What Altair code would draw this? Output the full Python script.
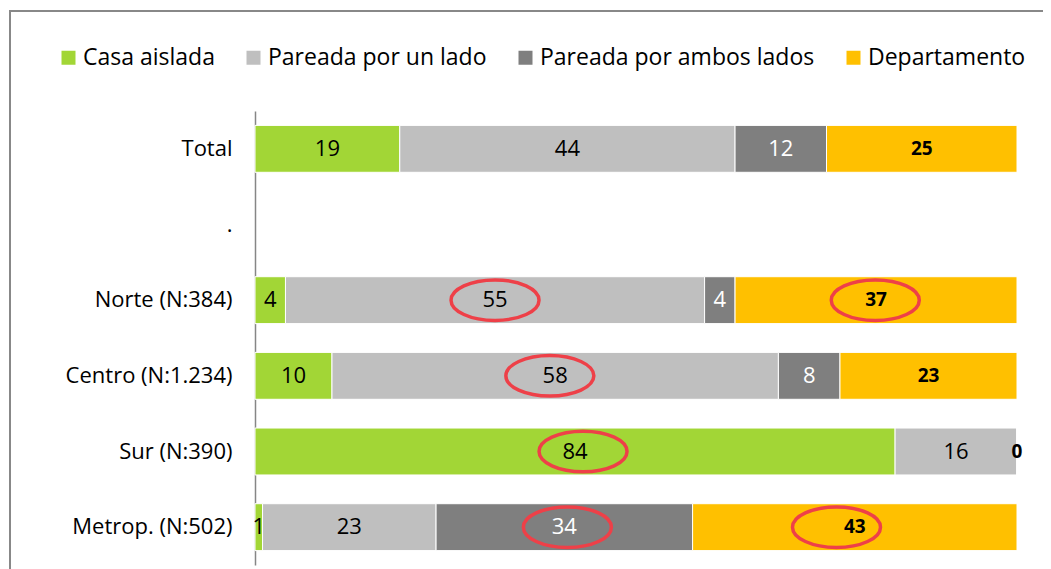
import altair as alt
import pandas as pd

categories = ["Total", ".", "Norte (N:384)", "Centro (N:1.234)", "Sur (N:390)", "Metrop. (N:502)"]
series = ["Casa aislada", "Pareada por un lado", "Pareada por ambos lados", "Departamento"]
colors = ["#A2D636", "#BFBFBF", "#7F7F7F", "#FFC000"]

total_vals = [19, 44, 12, 25]
norte_vals = [4, 55, 4, 37]
centro_vals = [10, 58, 8, 23]
sur_vals = [84, 16, 0, 0]
metrop_vals = [1, 23, 34, 43]

row_values = {
    "Total": total_vals,
    "Norte (N:384)": norte_vals,
    "Centro (N:1.234)": centro_vals,
    "Sur (N:390)": sur_vals,
    "Metrop. (N:502)": metrop_vals,
}

# labels that are not shown in the original
hidden_labels = [("Sur (N:390)", "Pareada por ambos lados")]

# circled labels (category, series, shift of the ellipse in % of the bar)
highlight_cat = ["Norte (N:384)", "Norte (N:384)", "Centro (N:1.234)", "Sur (N:390)", "Metrop. (N:502)", "Metrop. (N:502)"]
highlight_ser = ["Pareada por un lado", "Departamento", "Pareada por un lado", "Casa aislada", "Pareada por ambos lados", "Departamento"]
highlight_shift = [0.0, -0.1, -0.7, 1.05, 0.4, -2.4]

rows = []
for cat, vals in row_values.items():
    for i, (s, v) in enumerate(zip(series, vals)):
        hl = 0
        shift = 0.0
        for hc, hs, sh in zip(highlight_cat, highlight_ser, highlight_shift):
            if hc == cat and hs == s:
                hl = 1
                shift = sh
        rows.append({
            "cat": cat, "series": s, "value": v, "order": i,
            "show": 0 if (cat, s) in hidden_labels else 1,
            "hl": hl, "shift": shift,
        })
df = pd.DataFrame(rows)

FONT = "Open Sans"
FS = 22

yenc = alt.Y("cat:N", sort=categories,
             scale=alt.Scale(domain=categories, paddingInner=0.38, paddingOuter=0.19),
             axis=alt.Axis(title=None, ticks=False, labelPadding=23, labelFontSize=FS,
                           labelFont=FONT, labelColor="#000000", domainColor="#868686",
                           domainWidth=1.5, grid=False, labelLimit=0))

base = alt.Chart(df).transform_stack(
    stack="value", groupby=["cat"], as_=["x0", "x1"], offset="normalize",
    sort=[alt.SortField("order", order="ascending")]
).transform_calculate(mid="(datum.x0 + datum.x1) / 2")

xscale = alt.Scale(domain=[0, 1], nice=False, zero=False)

bars = base.mark_bar(stroke="white", strokeWidth=1).encode(
    x=alt.X("x0:Q", scale=xscale, axis=None),
    x2="x1:Q",
    y=yenc,
    color=alt.Color("series:N", sort=series,
                    scale=alt.Scale(domain=series, range=colors),
                    legend=alt.Legend(title=None, orient="none", direction="horizontal",
                                      legendX=-198, legendY=-65, symbolType="square",
                                      symbolSize=196, symbolStrokeWidth=0,
                                      labelFontSize=23, labelFont=FONT, labelColor="#000000",
                                      labelOffset=3, columnPadding=27, padding=0,
                                      labelLimit=0)),
)

labels = base.transform_filter(
    "datum.show == 1 && datum.series != 'Departamento'"
).mark_text(font=FONT, fontSize=FS, baseline="middle", align="center").encode(
    x=alt.X("mid:Q", scale=xscale),
    y=alt.Y("cat:N", sort=categories),
    text=alt.Text("value:Q"),
    color=alt.condition("datum.series == 'Pareada por ambos lados'", alt.value("#FFFFFF"), alt.value("#000000")),
)

labels_bold = base.transform_filter(
    "datum.show == 1 && datum.series == 'Departamento'"
).mark_text(font=FONT, fontSize=19, fontWeight="bold", baseline="middle", align="center", color="#000000").encode(
    x=alt.X("mid:Q", scale=xscale),
    y=alt.Y("cat:N", sort=categories),
    text=alt.Text("value:Q"),
)

ellipses = base.transform_filter("datum.hl == 1").transform_calculate(
    ex="datum.mid + datum.shift / 100"
).mark_point(
    shape="M-1,0A1,0.46,0,1,1,1,0A1,0.46,0,1,1,-1,0Z",
    size=7744, filled=False, stroke="#EE4048", strokeWidth=3.5, opacity=1,
).encode(
    x=alt.X("ex:Q", scale=xscale),
    y=alt.Y("cat:N", sort=categories),
)

frame_df = pd.DataFrame({"a": [0]})
frame_v = alt.Chart(frame_df).mark_rule(color="#888888", strokeWidth=2).encode(
    x=alt.value(-245), y=alt.value(-100), y2=alt.value(470))
frame_h = alt.Chart(frame_df).mark_rule(color="#888888", strokeWidth=2).encode(
    x=alt.value(-246), x2=alt.value(800), y=alt.value(-100))

chart = alt.layer(bars, labels, labels_bold, ellipses, frame_v, frame_h).properties(
    width=762, height=454,
    autosize=alt.AutoSizeParams(type="none"),
    padding={"left": 247, "top": 103, "right": 26, "bottom": 4},
).configure(font=FONT).configure_view(strokeWidth=0, stroke="transparent")

chart.save("out.html", embed_options={"renderer": "svg", "actions": False})
